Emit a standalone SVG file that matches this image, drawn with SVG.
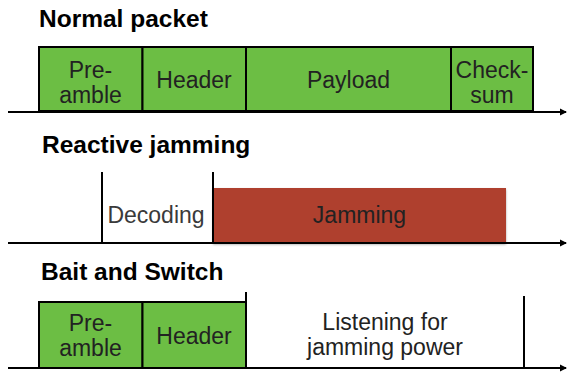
<svg xmlns="http://www.w3.org/2000/svg" width="569" height="372" viewBox="0 0 569 372">
<style>
.title{font-family:"Liberation Sans",Arial,sans-serif;font-weight:bold;font-size:24.5px;fill:#000}
.lbl{font-family:"Liberation Sans",Arial,sans-serif;font-size:23px;fill:#222;text-anchor:middle}
.grey{fill:#3a3a3a}
.box{fill:#6CBE44;stroke:#000;stroke-width:2}
.ln{stroke:#000;stroke-width:2;fill:none}
</style>
<defs>
<marker id="arr" markerWidth="8" markerHeight="8" refX="6" refY="4" orient="auto" markerUnits="userSpaceOnUse">
<path d="M0,0.5 L7,4 L0,7.5 Z" fill="#000"/>
</marker>
<filter id="sh" x="-5%" y="-5%" width="110%" height="115%">
<feDropShadow dx="0" dy="1.5" stdDeviation="1.2" flood-color="#000" flood-opacity="0.35"/>
</filter>
</defs>
<g id="titles">
<text class="title" x="39" y="27">Normal packet</text>
<text class="title" x="42" y="153">Reactive jamming</text>
<text class="title" x="41" y="280">Bait and Switch</text>
</g>
<g id="normal-preamble"><rect class="box" x="39" y="47" width="103.5" height="64"/><text class="lbl" x="90.5" y="78">Pre-</text><text class="lbl" x="90.5" y="103">amble</text></g>
<g id="normal-header"><rect class="box" x="142.5" y="47" width="103.5" height="64"/><text class="lbl" x="194" y="88">Header</text></g>
<g id="normal-payload"><rect class="box" x="246" y="47" width="205" height="64"/><text class="lbl" x="348.5" y="88">Payload</text></g>
<g id="normal-checksum"><rect class="box" x="451" y="47" width="82" height="64"/><text class="lbl" x="492" y="78">Check-</text><text class="lbl" x="492" y="103">sum</text></g>
<g id="reactive-decoding"><text class="lbl grey" x="156" y="223">Decoding</text></g>
<g id="reactive-jamming"><rect x="213" y="188" width="293" height="55" fill="#AF412F" filter="url(#sh)"/><text class="lbl" x="359.5" y="223">Jamming</text></g>
<g id="bait-preamble"><rect class="box" x="39" y="302" width="103.5" height="66"/><text class="lbl" x="90.5" y="331">Pre-</text><text class="lbl" x="90.5" y="356">amble</text></g>
<g id="bait-header"><rect class="box" x="142.5" y="302" width="103.5" height="66"/><text class="lbl" x="194" y="344">Header</text></g>
<g id="bait-listening"><text class="lbl" x="385" y="330">Listening for</text><text class="lbl" x="385" y="355">jamming power</text></g>
<g id="connectors">
<line class="ln" x1="8" y1="112" x2="566" y2="112" marker-end="url(#arr)"/>
<line class="ln" x1="8" y1="243" x2="566" y2="243" marker-end="url(#arr)"/>
<line class="ln" x1="8" y1="368" x2="566" y2="368" marker-end="url(#arr)"/>
<line class="ln" x1="102" y1="172" x2="102" y2="243"/>
<line class="ln" x1="213" y1="172" x2="213" y2="243"/>
<line class="ln" x1="246" y1="292" x2="246" y2="368"/>
<line class="ln" x1="524" y1="296" x2="524" y2="368"/>
</g>
</svg>
